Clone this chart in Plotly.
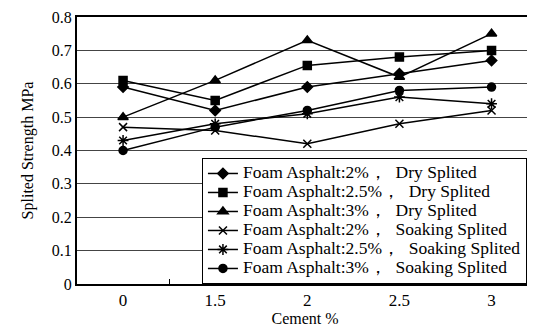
import plotly.graph_objects as go

categories = ["0", "1.5", "2", "2.5", "3"]
names = [
    "Foam Asphalt:2%，  Dry Splited",
    "Foam Asphalt:2.5%，  Dry Splited",
    "Foam Asphalt:3%，  Dry Splited",
    "Foam Asphalt:2%，  Soaking Splited",
    "Foam Asphalt:2.5%，  Soaking Splited",
    "Foam Asphalt:3%，  Soaking Splited",
]
dry_2 = [0.59, 0.52, 0.59, 0.63, 0.67]
dry_25 = [0.61, 0.55, 0.655, 0.68, 0.70]
dry_3 = [0.50, 0.61, 0.73, 0.62, 0.75]
soak_2 = [0.47, 0.46, 0.42, 0.48, 0.52]
soak_25 = [0.43, 0.48, 0.51, 0.56, 0.54]
soak_3 = [0.40, 0.47, 0.52, 0.58, 0.59]
y_ticks = [0, 0.1, 0.2, 0.3, 0.4, 0.5, 0.6, 0.7, 0.8]

series = [dry_2, dry_25, dry_3, soak_2, soak_25, soak_3]
symbols = ["diamond", "square", "triangle-up", "x-thin", "asterisk", "circle"]
sizes = [8, 8, 9, 8, 9, 8]

font = "Liberation Serif, Times New Roman, serif"

fig = go.Figure()
for name, vals, sym, sz in zip(names, series, symbols, sizes):
    fig.add_trace(go.Scatter(
        x=categories, y=vals,
        name='<span style="font-size:17.5px">' + name + '</span>',
        mode="lines+markers",
        line=dict(color="black", width=1.5),
        marker=dict(symbol=sym, size=sz, color="black",
                    line=dict(color="black", width=1.5)),
    ))

# the page body adds an 8px offset, so the figure is sized to fit the window
fig.update_layout(
    width=527, height=326,
    margin=dict(l=69, r=2, t=9, b=50, autoexpand=False),
    paper_bgcolor="white", plot_bgcolor="white",
    font=dict(family=font, color="black", size=15),
    showlegend=True,
    legend=dict(
        x=0.274, y=0.472, xanchor="left", yanchor="top",
        bgcolor="white", bordercolor="black", borderwidth=1,
        font=dict(family=font, size=12, color="black"),
        tracegroupgap=0, itemwidth=30,
    ),
    xaxis=dict(
        type="category", range=[-0.5, 4.45], automargin=False,
        tickson="boundaries", ticks="inside", ticklen=5,
        tickcolor="black", tickwidth=1,
        showline=True, linecolor="black", linewidth=2, mirror=True,
        showgrid=False, tickfont=dict(size=17),
        title=dict(text="Cement %", font=dict(size=16), standoff=2),
    ),
    yaxis=dict(
        range=[0, 0.8], tickvals=y_ticks, automargin=False,
        ticktext=[("%g" % v) for v in y_ticks],
        ticklabeloverflow="allow",
        showline=True, linecolor="black", linewidth=2, mirror=True,
        showgrid=True, gridcolor="#444", gridwidth=1,
        ticks="", tickfont=dict(size=16), zeroline=False,
        title=dict(text="Splited Strength MPa", font=dict(size=16), standoff=14),
    ),
)
fig.write_html("out.html")
